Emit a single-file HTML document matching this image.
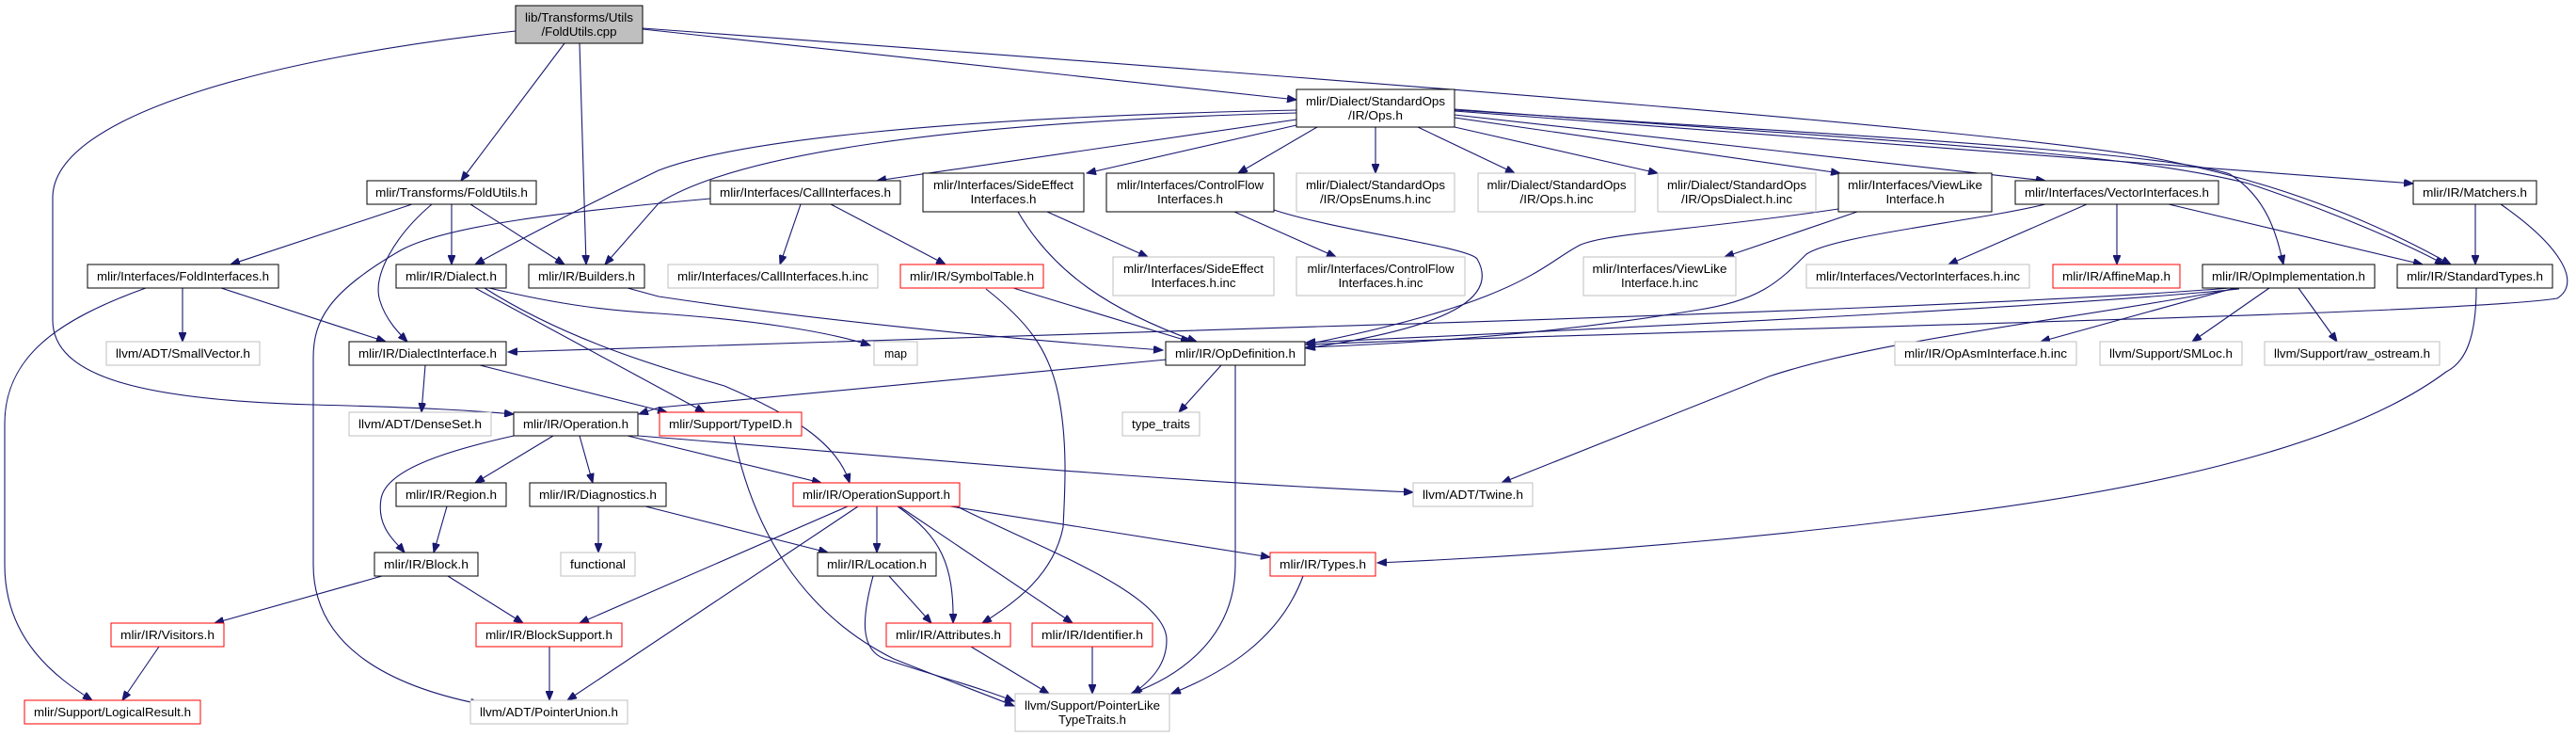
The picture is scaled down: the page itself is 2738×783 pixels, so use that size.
<!DOCTYPE html>
<html><head><meta charset="utf-8"><style>
html,body{margin:0;padding:0;background:#fff;}
svg{display:block;}
text{font-family:"Liberation Sans",sans-serif;font-size:13px;fill:#000;}
.e{fill:none;stroke:#191970;stroke-width:1.1;marker-end:url(#a);}
.n{fill:#fff;stroke:#000;stroke-width:1;}
.g{fill:#fff;stroke:#bfbfbf;stroke-width:1;}
.r{fill:#fff;stroke:#ff0000;stroke-width:1;}
</style></head><body>
<svg width="2738" height="783" viewBox="0 0 2738 783" xmlns="http://www.w3.org/2000/svg">
<defs><marker id="a" markerUnits="userSpaceOnUse" markerWidth="11" markerHeight="8" refX="10" refY="4" orient="auto"><path d="M0,0 L10,4 L0,8 z" fill="#191970" stroke="#191970"/></marker></defs>
<g>
<path class="e" d="M548,33 C300,60 56,120 56,210 L56,340 C56,400 150,425 333,430 C450,433 500,436 546,440"/>
<path class="e" d="M600,46 L490,192"/>
<path class="e" d="M616,46 L623,281"/>
<path class="e" d="M683,31 L1378,106"/>
<path class="e" d="M683,30 C1500,90 2150,140 2300,170 C2450,200 2550,250 2605,281"/>
<path class="e" d="M1378,127 L932,192"/>
<path class="e" d="M1378,133 L1155,184"/>
<path class="e" d="M1400,135 L1316,184"/>
<path class="e" d="M1462,135 L1462,184"/>
<path class="e" d="M1507,135 L1610,184"/>
<path class="e" d="M1546,135 L1762,184"/>
<path class="e" d="M1546,125 L1956,184"/>
<path class="e" d="M1546,122 L2174,192"/>
<path class="e" d="M1546,118 L2565,195"/>
<path class="e" d="M1546,117 C1900,140 2300,160 2370,185 C2410,210 2420,250 2427,281"/>
<path class="e" d="M1546,116 C2000,150 2250,160 2390,195 C2480,225 2560,260 2598,281"/>
<path class="e" d="M1378,117 C1000,125 780,150 700,181 C640,210 560,250 505,281"/>
<path class="e" d="M1378,120 C1000,130 780,165 700,216 L643,281"/>
<path class="e" d="M851,217 L829,281"/>
<path class="e" d="M883,217 L1005,281"/>
<path class="e" d="M755,211 C600,225 470,240 424,267 C350,310 333,340 333,380 L333,600 C333,690 420,730 510,748"/>
<path class="e" d="M1113,225 L1220,273"/>
<path class="e" d="M1082,225 C1120,290 1180,330 1272,363"/>
<path class="e" d="M1312,225 L1420,273"/>
<path class="e" d="M1354,223 C1420,245 1560,262 1570,275 C1590,310 1560,345 1388,370"/>
<path class="e" d="M1974,225 L1833,273"/>
<path class="e" d="M1954,222 C1800,245 1712,247 1680,260 C1640,280 1620,320 1388,366"/>
<path class="e" d="M2218,217 L2071,281"/>
<path class="e" d="M2250,217 L2250,281"/>
<path class="e" d="M2305,217 L2575,281"/>
<path class="e" d="M2174,217 C2100,235 1950,250 1920,270 C1890,300 1870,320 1800,330 C1650,355 1500,365 1388,369"/>
<path class="e" d="M2631,217 L2631,281"/>
<path class="e" d="M2658,217 C2720,260 2745,300 2718,317 C2600,335 1800,350 1388,366"/>
<path class="e" d="M2375,306 L2169,363"/>
<path class="e" d="M2412,306 L2330,363"/>
<path class="e" d="M2443,306 L2484,363"/>
<path class="e" d="M2380,306 C2200,340 2000,360 1880,400 L1596,513"/>
<path class="e" d="M2370,306 C2200,320 1800,335 1400,347 L540,374"/>
<path class="e" d="M2380,307 C2200,325 1800,345 1388,364"/>
<path class="e" d="M2632,306 C2632,360 2620,385 2600,395 C2500,470 2300,520 2040,550 C1800,580 1600,592 1464,598"/>
<path class="e" d="M1077,306 L1265,363"/>
<path class="e" d="M1048,307 C1090,340 1115,370 1125,420 C1135,470 1132,520 1130,560 C1120,610 1080,640 1044,662"/>
<path class="e" d="M520,306 C600,325 650,330 700,333 C800,340 880,352 925,367"/>
<path class="e" d="M505,306 L749,438"/>
<path class="e" d="M515,306 C600,360 700,390 770,410 C840,440 890,470 903,513"/>
<path class="e" d="M667,306 L700,315 C900,345 1100,362 1236,372"/>
<path class="e" d="M438,217 L245,281"/>
<path class="e" d="M480,217 L480,281"/>
<path class="e" d="M500,217 L600,281"/>
<path class="e" d="M459,217 C420,250 395,293 404,320 C410,340 425,355 433,363"/>
<path class="e" d="M194,306 L194,363"/>
<path class="e" d="M235,306 L410,363"/>
<path class="e" d="M155,306 C60,340 5,380 5,450 L5,600 C5,680 60,720 98,744"/>
<path class="e" d="M452,388 L448,438"/>
<path class="e" d="M510,388 L709,438"/>
<path class="e" d="M1298,388 L1253,438"/>
<path class="e" d="M1313,388 L1313,600 C1313,680 1250,720 1202,737"/>
<path class="e" d="M1240,382 L700,433 L679,440"/>
<path class="e" d="M588,463 L505,513"/>
<path class="e" d="M616,463 L630,513"/>
<path class="e" d="M546,463 C470,480 410,500 405,530 C400,560 420,575 430,587"/>
<path class="e" d="M667,463 L873,513"/>
<path class="e" d="M678,463 C900,480 1200,510 1502,523"/>
<path class="e" d="M475,538 L461,587"/>
<path class="e" d="M636,538 L636,587"/>
<path class="e" d="M686,538 L880,587"/>
<path class="e" d="M406,612 L228,662"/>
<path class="e" d="M476,612 L556,662"/>
<path class="e" d="M169,687 L130,744"/>
<path class="e" d="M584,687 L584,744"/>
<path class="e" d="M932,538 L932,587"/>
<path class="e" d="M954,538 C1000,570 1014,600 1013,662"/>
<path class="e" d="M956,538 L1140,662"/>
<path class="e" d="M1017,538 C1100,580 1240,630 1240,680 C1240,705 1225,722 1204,737"/>
<path class="e" d="M1010,538 L1350,592"/>
<path class="e" d="M901,538 L616,662"/>
<path class="e" d="M912,538 L603,744"/>
<path class="e" d="M945,612 L990,662"/>
<path class="e" d="M928,612 C915,660 915,690 940,700 C1000,720 1040,730 1078,745"/>
<path class="e" d="M780,463 C800,560 850,650 950,700 C1000,720 1040,735 1078,750"/>
<path class="e" d="M1032,687 L1115,737"/>
<path class="e" d="M1161,687 L1161,737"/>
<path class="e" d="M1385,612 C1360,680 1300,715 1245,737"/>
</g>
<g>
<rect x="548" y="6" width="135" height="40" fill="#bfbfbf" stroke="#000"/>
<text x="615.5" y="23" text-anchor="middle" textLength="115" lengthAdjust="spacingAndGlyphs">lib/Transforms/Utils</text>
<text x="615.5" y="38" text-anchor="middle" textLength="80" lengthAdjust="spacingAndGlyphs">/FoldUtils.cpp</text>

<rect class="n" x="390" y="192" width="180" height="25"/><text x="480" y="209" text-anchor="middle" textLength="162" lengthAdjust="spacingAndGlyphs">mlir/Transforms/FoldUtils.h</text>
<rect class="n" x="93" y="281" width="203" height="25"/><text x="194.5" y="298" text-anchor="middle" textLength="183" lengthAdjust="spacingAndGlyphs">mlir/Interfaces/FoldInterfaces.h</text>
<rect class="n" x="421" y="281" width="117" height="25"/><text x="479.5" y="298" text-anchor="middle" textLength="97" lengthAdjust="spacingAndGlyphs">mlir/IR/Dialect.h</text>
<rect class="n" x="562" y="281" width="123" height="25"/><text x="623.5" y="298" text-anchor="middle" textLength="103" lengthAdjust="spacingAndGlyphs">mlir/IR/Builders.h</text>
<rect class="g" x="113" y="363" width="163" height="25"/><text x="194.5" y="380" text-anchor="middle" textLength="143" lengthAdjust="spacingAndGlyphs">llvm/ADT/SmallVector.h</text>
<rect class="n" x="371" y="363" width="167" height="25"/><text x="454.5" y="380" text-anchor="middle" textLength="147" lengthAdjust="spacingAndGlyphs">mlir/IR/DialectInterface.h</text>

<rect class="n" x="1378" y="95" width="168" height="40"/>
<text x="1462" y="112" text-anchor="middle" textLength="148" lengthAdjust="spacingAndGlyphs">mlir/Dialect/StandardOps</text>
<text x="1462" y="127" text-anchor="middle" textLength="58" lengthAdjust="spacingAndGlyphs">/IR/Ops.h</text>

<rect class="n" x="755" y="192" width="202" height="25"/><text x="856" y="209" text-anchor="middle" textLength="182" lengthAdjust="spacingAndGlyphs">mlir/Interfaces/CallInterfaces.h</text>
<rect class="n" x="981" y="184" width="171" height="41"/><text x="1066.5" y="201" text-anchor="middle" textLength="149" lengthAdjust="spacingAndGlyphs">mlir/Interfaces/SideEffect</text><text x="1066.5" y="216" text-anchor="middle" textLength="70" lengthAdjust="spacingAndGlyphs">Interfaces.h</text>
<rect class="n" x="1176" y="184" width="178" height="41"/><text x="1265" y="201" text-anchor="middle" textLength="156" lengthAdjust="spacingAndGlyphs">mlir/Interfaces/ControlFlow</text><text x="1265" y="216" text-anchor="middle" textLength="70" lengthAdjust="spacingAndGlyphs">Interfaces.h</text>
<rect class="g" x="710" y="281" width="223" height="25"/><text x="821.5" y="298" text-anchor="middle" textLength="203" lengthAdjust="spacingAndGlyphs">mlir/Interfaces/CallInterfaces.h.inc</text>
<rect class="r" x="957" y="281" width="152" height="25"/><text x="1033" y="298" text-anchor="middle" textLength="132" lengthAdjust="spacingAndGlyphs">mlir/IR/SymbolTable.h</text>
<rect class="g" x="1183" y="273" width="171" height="41"/><text x="1268.5" y="290" text-anchor="middle" textLength="149" lengthAdjust="spacingAndGlyphs">mlir/Interfaces/SideEffect</text><text x="1268.5" y="305" text-anchor="middle" textLength="90" lengthAdjust="spacingAndGlyphs">Interfaces.h.inc</text>
<rect class="g" x="929" y="363" width="46" height="25"/><text x="952" y="380" text-anchor="middle" textLength="24" lengthAdjust="spacingAndGlyphs">map</text>
<rect class="n" x="1239" y="363" width="148" height="25"/><text x="1313" y="380" text-anchor="middle" textLength="128" lengthAdjust="spacingAndGlyphs">mlir/IR/OpDefinition.h</text>

<rect class="g" x="1378" y="184" width="168" height="41"/><text x="1462" y="201" text-anchor="middle" textLength="148" lengthAdjust="spacingAndGlyphs">mlir/Dialect/StandardOps</text><text x="1462" y="216" text-anchor="middle" textLength="118" lengthAdjust="spacingAndGlyphs">/IR/OpsEnums.h.inc</text>
<rect class="g" x="1571" y="184" width="167" height="41"/><text x="1654.5" y="201" text-anchor="middle" textLength="148" lengthAdjust="spacingAndGlyphs">mlir/Dialect/StandardOps</text><text x="1654.5" y="216" text-anchor="middle" textLength="78" lengthAdjust="spacingAndGlyphs">/IR/Ops.h.inc</text>
<rect class="g" x="1762" y="184" width="168" height="41"/><text x="1846" y="201" text-anchor="middle" textLength="148" lengthAdjust="spacingAndGlyphs">mlir/Dialect/StandardOps</text><text x="1846" y="216" text-anchor="middle" textLength="118" lengthAdjust="spacingAndGlyphs">/IR/OpsDialect.h.inc</text>
<rect class="n" x="1954" y="184" width="163" height="41"/><text x="2035.5" y="201" text-anchor="middle" textLength="143" lengthAdjust="spacingAndGlyphs">mlir/Interfaces/ViewLike</text><text x="2035.5" y="216" text-anchor="middle" textLength="62" lengthAdjust="spacingAndGlyphs">Interface.h</text>
<rect class="g" x="1378" y="273" width="179" height="41"/><text x="1467.5" y="290" text-anchor="middle" textLength="156" lengthAdjust="spacingAndGlyphs">mlir/Interfaces/ControlFlow</text><text x="1467.5" y="305" text-anchor="middle" textLength="90" lengthAdjust="spacingAndGlyphs">Interfaces.h.inc</text>
<rect class="g" x="1683" y="273" width="162" height="41"/><text x="1764" y="290" text-anchor="middle" textLength="143" lengthAdjust="spacingAndGlyphs">mlir/Interfaces/ViewLike</text><text x="1764" y="305" text-anchor="middle" textLength="82" lengthAdjust="spacingAndGlyphs">Interface.h.inc</text>
<rect class="n" x="2142" y="192" width="216" height="25"/><text x="2250" y="209" text-anchor="middle" textLength="196" lengthAdjust="spacingAndGlyphs">mlir/Interfaces/VectorInterfaces.h</text>
<rect class="g" x="1920" y="281" width="237" height="25"/><text x="2038.5" y="298" text-anchor="middle" textLength="217" lengthAdjust="spacingAndGlyphs">mlir/Interfaces/VectorInterfaces.h.inc</text>
<rect class="n" x="2565" y="192" width="131" height="25"/><text x="2630.5" y="209" text-anchor="middle" textLength="111" lengthAdjust="spacingAndGlyphs">mlir/IR/Matchers.h</text>
<rect class="r" x="2182" y="281" width="135" height="25"/><text x="2249.5" y="298" text-anchor="middle" textLength="115" lengthAdjust="spacingAndGlyphs">mlir/IR/AffineMap.h</text>
<rect class="n" x="2341" y="281" width="183" height="25"/><text x="2432.5" y="298" text-anchor="middle" textLength="163" lengthAdjust="spacingAndGlyphs">mlir/IR/OpImplementation.h</text>
<rect class="n" x="2548" y="281" width="165" height="25"/><text x="2630.5" y="298" text-anchor="middle" textLength="145" lengthAdjust="spacingAndGlyphs">mlir/IR/StandardTypes.h</text>
<rect class="g" x="2014" y="363" width="193" height="25"/><text x="2110.5" y="380" text-anchor="middle" textLength="173" lengthAdjust="spacingAndGlyphs">mlir/IR/OpAsmInterface.h.inc</text>
<rect class="g" x="2232" y="363" width="151" height="25"/><text x="2307.5" y="380" text-anchor="middle" textLength="131" lengthAdjust="spacingAndGlyphs">llvm/Support/SMLoc.h</text>
<rect class="g" x="2407" y="363" width="186" height="25"/><text x="2500" y="380" text-anchor="middle" textLength="166" lengthAdjust="spacingAndGlyphs">llvm/Support/raw_ostream.h</text>

<rect class="g" x="371" y="438" width="151" height="25"/><text x="446.5" y="455" text-anchor="middle" textLength="131" lengthAdjust="spacingAndGlyphs">llvm/ADT/DenseSet.h</text>
<rect class="n" x="546" y="438" width="132" height="25"/><text x="612" y="455" text-anchor="middle" textLength="112" lengthAdjust="spacingAndGlyphs">mlir/IR/Operation.h</text>
<rect class="r" x="701" y="438" width="151" height="25"/><text x="776.5" y="455" text-anchor="middle" textLength="131" lengthAdjust="spacingAndGlyphs">mlir/Support/TypeID.h</text>
<rect class="g" x="1193" y="438" width="82" height="25"/><text x="1234" y="455" text-anchor="middle" textLength="62" lengthAdjust="spacingAndGlyphs">type_traits</text>
<rect class="n" x="421" y="513" width="117" height="25"/><text x="479.5" y="530" text-anchor="middle" textLength="97" lengthAdjust="spacingAndGlyphs">mlir/IR/Region.h</text>
<rect class="n" x="563" y="513" width="145" height="25"/><text x="635.5" y="530" text-anchor="middle" textLength="125" lengthAdjust="spacingAndGlyphs">mlir/IR/Diagnostics.h</text>
<rect class="r" x="843" y="513" width="177" height="25"/><text x="931.5" y="530" text-anchor="middle" textLength="157" lengthAdjust="spacingAndGlyphs">mlir/IR/OperationSupport.h</text>
<rect class="g" x="1502" y="513" width="127" height="25"/><text x="1565.5" y="530" text-anchor="middle" textLength="107" lengthAdjust="spacingAndGlyphs">llvm/ADT/Twine.h</text>
<rect class="n" x="398" y="587" width="110" height="25"/><text x="453" y="604" text-anchor="middle" textLength="90" lengthAdjust="spacingAndGlyphs">mlir/IR/Block.h</text>
<rect class="g" x="596" y="587" width="79" height="25"/><text x="635.5" y="604" text-anchor="middle" textLength="59" lengthAdjust="spacingAndGlyphs">functional</text>
<rect class="n" x="869" y="587" width="126" height="25"/><text x="932" y="604" text-anchor="middle" textLength="106" lengthAdjust="spacingAndGlyphs">mlir/IR/Location.h</text>
<rect class="r" x="1350" y="587" width="112" height="25"/><text x="1406" y="604" text-anchor="middle" textLength="92" lengthAdjust="spacingAndGlyphs">mlir/IR/Types.h</text>
<rect class="r" x="118" y="662" width="120" height="25"/><text x="178" y="679" text-anchor="middle" textLength="100" lengthAdjust="spacingAndGlyphs">mlir/IR/Visitors.h</text>
<rect class="r" x="506" y="662" width="155" height="25"/><text x="583.5" y="679" text-anchor="middle" textLength="135" lengthAdjust="spacingAndGlyphs">mlir/IR/BlockSupport.h</text>
<rect class="r" x="942" y="662" width="132" height="25"/><text x="1008" y="679" text-anchor="middle" textLength="112" lengthAdjust="spacingAndGlyphs">mlir/IR/Attributes.h</text>
<rect class="r" x="1097" y="662" width="128" height="25"/><text x="1161" y="679" text-anchor="middle" textLength="108" lengthAdjust="spacingAndGlyphs">mlir/IR/Identifier.h</text>
<rect class="r" x="26" y="744" width="187" height="25"/><text x="119.5" y="761" text-anchor="middle" textLength="167" lengthAdjust="spacingAndGlyphs">mlir/Support/LogicalResult.h</text>
<rect class="g" x="500" y="744" width="167" height="25"/><text x="583.5" y="761" text-anchor="middle" textLength="147" lengthAdjust="spacingAndGlyphs">llvm/ADT/PointerUnion.h</text>
<rect class="g" x="1079" y="737" width="164" height="40"/><text x="1161" y="754" text-anchor="middle" textLength="144" lengthAdjust="spacingAndGlyphs">llvm/Support/PointerLike</text><text x="1161" y="769" text-anchor="middle" textLength="72" lengthAdjust="spacingAndGlyphs">TypeTraits.h</text>
</g>
</svg>
</body></html>
